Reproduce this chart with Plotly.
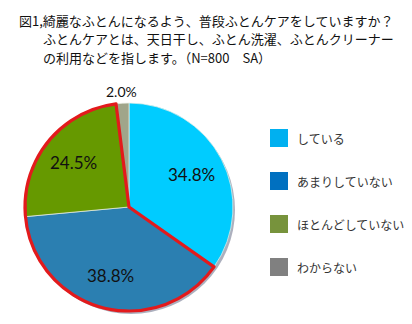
import numpy as np
import plotly.graph_objects as go

# --- data -------------------------------------------------------------
categories = ["している", "あまりしていない", "ほとんどしていない", "わからない"]
values = [34.8, 38.8, 24.5, 2.0]
slice_colors = ["#00CCFF", "#2B7FB1", "#669900", "#A0A58A"]
legend_colors = ["#00B0F0", "#0070C0", "#77933C", "#808080"]
title_lines = [
    "図1,綺麗なふとんになるよう、普段ふとんケアをしていますか？",
    "ふとんケアとは、天日干し、ふとん洗濯、ふとんクリーナー",
    "の利用などを指します。（N=800　SA）",
]
# slices grouped under the red outline ("not really" answers)
outlined = [False, True, True, False]

W, H = 412, 324
cx, cy, R = 129, 207, 104  # pie centre / radius in pixels


def px(x):
    return x / W


def py(y):
    return (H - y) / H


fig = go.Figure()

# soft drop shadow under the pie
fig.add_trace(go.Pie(
    values=[1], marker=dict(colors=["rgba(70,80,110,0.45)"], line=dict(width=0)),
    textinfo="none", hoverinfo="skip", sort=False, showlegend=False,
    domain=dict(x=[px(cx - R + 2), px(cx + R + 2)], y=[py(cy + R + 3), py(cy - R + 3)]),
))

# main pie
fig.add_trace(go.Pie(
    labels=categories, values=values, sort=False, direction="clockwise", rotation=0,
    marker=dict(colors=slice_colors, line=dict(color="rgba(235,240,230,0.9)", width=0.8)),
    textinfo="none", hoverinfo="label+percent", showlegend=False,
    domain=dict(x=[px(cx - R), px(cx + R)], y=[py(cy + R), py(cy - R)]),
))

# red outline around the grouped slices
grp_vals, grp_line = [], []
i = 0
while i < len(values):
    j = i
    s = 0.0
    while j < len(values) and outlined[j] == outlined[i]:
        s += values[j]
        j += 1
    grp_vals.append(s)
    grp_line.append(outlined[i])
    i = j
fig.add_trace(go.Pie(
    values=grp_vals, sort=False, direction="clockwise", rotation=0,
    marker=dict(colors=["rgba(0,0,0,0)"] * len(grp_vals),
                line=dict(color=["#E31A1C" if f else "rgba(0,0,0,0)" for f in grp_line],
                          width=[3.2 if f else 0 for f in grp_line])),
    textinfo="none", hoverinfo="skip", showlegend=False,
    domain=dict(x=[px(cx - R), px(cx + R)], y=[py(cy + R), py(cy - R)]),
))

# percentage labels placed from the slice mid-angles
ann = []
total = sum(values)
cum = np.cumsum([0] + values)
for k, v in enumerate(values):
    mid = (cum[k] + v / 2) / total * 2 * np.pi
    inside = v >= 5
    r = 0.68 * R if inside else 1.11 * R
    x = cx + r * np.sin(mid)
    y = cy - r * np.cos(mid)
    ann.append(dict(
        x=px(x), y=py(y), xref="paper", yref="paper", showarrow=False,
        text=f"{v:.1f}%", xanchor="center", yanchor="middle",
        font=dict(family="Lato, Noto Sans", size=17 if inside else 14, color="#111111"),
    ))

# title
for k, line in enumerate(title_lines):
    ann.append(dict(
        x=px(17 if k == 0 else 41), y=py(21 + 18 * k), xref="paper", yref="paper",
        showarrow=False, text=line, xanchor="left", yanchor="middle",
        font=dict(family="Noto Sans CJK JP", size=13, color="#111111"),
    ))

# legend
shapes = []
for k, (lab, col) in enumerate(zip(categories, legend_colors)):
    yc = 138 + 43 * k
    shapes.append(dict(type="rect", xref="paper", yref="paper",
                       x0=px(270), x1=px(288), y0=py(yc + 9), y1=py(yc - 9),
                       fillcolor=col, line=dict(width=0)))
    ann.append(dict(
        x=px(295), y=py(yc), xref="paper", yref="paper", showarrow=False,
        text=lab, xanchor="left", yanchor="middle",
        font=dict(family="Noto Sans CJK JP", size=12, color="#333333"),
    ))

fig.update_layout(
    width=W, height=H, margin=dict(l=0, r=0, t=0, b=0),
    paper_bgcolor="white", plot_bgcolor="white",
    annotations=ann, shapes=shapes, showlegend=False,
)

fig.write_html("out.html")
